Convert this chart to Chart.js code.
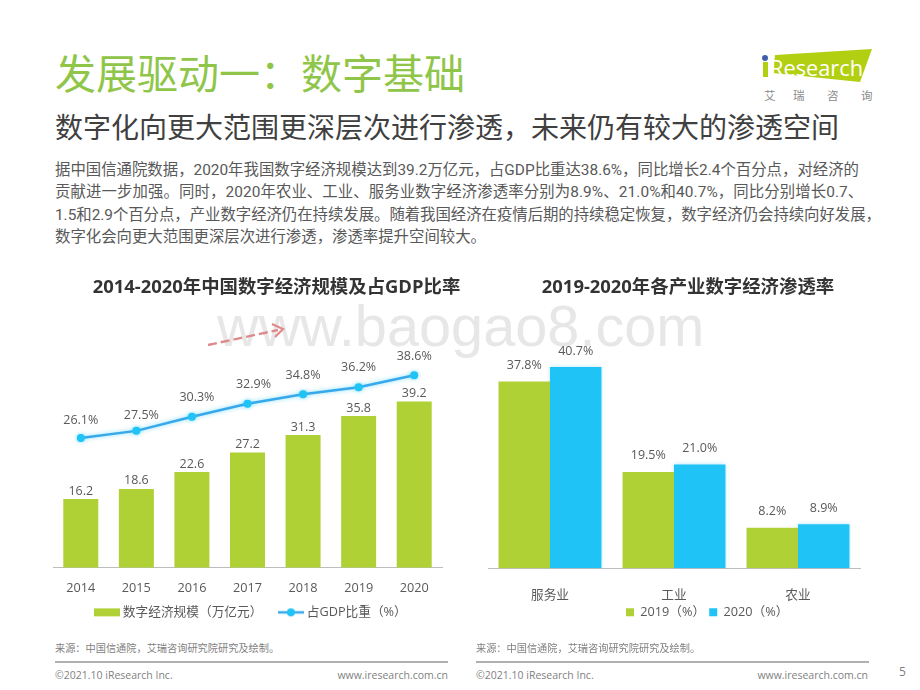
<!DOCTYPE html>
<html lang="zh-CN"><head><meta charset="utf-8">
<script src="https://cdn.jsdelivr.net/npm/chart.js@4"></script>
<style>
html,body{margin:0;padding:0;background:#fff;width:920px;height:690px;overflow:hidden}
body{position:relative;font-family:"Open Sans","Noto Sans CJK SC",sans-serif}
.t{position:absolute;white-space:nowrap;line-height:1}
.b{font-family:Roboto,"Noto Sans CJK SC",sans-serif;font-size:15.4px;color:#595959;left:55px}
.f{font-size:10.5px;color:#7f7f7f}
canvas{position:absolute}
svg{position:absolute;left:0;top:0}
.rule{position:absolute;height:2px;background:#b0b0b0;top:661px}
.mark{position:absolute;left:217px;top:293px;font:57.7px "Liberation Sans";color:#e7e7e7;white-space:nowrap}
</style></head><body>
<div class="mark">www.baogao8.com</div>
<div class="t" style="left:55px;top:53px;font-size:41px;color:#8fc649">发展驱动一：数字基础</div>
<div class="t" style="left:55px;top:113px;font-size:28px;color:#404040">数字化向更大范围更深层次进行渗透，未来仍有较大的渗透空间</div>
<div class="t b" style="top:163px">据中国信通院数据，2020年我国数字经济规模达到39.2万亿元，占GDP比重达38.6%，同比增长2.4个百分点，对经济的</div>
<div class="t b" style="top:185px;letter-spacing:.1px">贡献进一步加强。同时，2020年农业、工业、服务业数字经济渗透率分别为8.9%、21.0%和40.7%，同比分别增长0.7、</div>
<div class="t b" style="top:208px;letter-spacing:-.03px">1.5和2.9个百分点，产业数字经济仍在持续发展。随着我国经济在疫情后期的持续稳定恢复，数字经济仍会持续向好发展，</div>
<div class="t b" style="top:230px">数字化会向更大范围更深层次进行渗透，渗透率提升空间较大。</div>

<svg width="920" height="690">
  <polygon points="775,55 872,49 860,82 773,73" fill="#b2cf12"/>
  <rect x="763" y="62" width="5" height="15" fill="#b2cf12"/>
  <circle cx="765" cy="58" r="3" fill="#3f5fae"/>
  <text x="770" y="76" font-family="Open Sans" font-size="22" fill="#fff" textLength="93" lengthAdjust="spacingAndGlyphs">Research</text>
  <text x="764" y="100" font-family="Noto Sans CJK SC" font-size="11.5" fill="#8a8a8a">艾</text>
  <text x="793" y="100" font-family="Noto Sans CJK SC" font-size="11.5" fill="#8a8a8a">瑞</text>
  <text x="827" y="100" font-family="Noto Sans CJK SC" font-size="11.5" fill="#8a8a8a">咨</text>
  <text x="861" y="100" font-family="Noto Sans CJK SC" font-size="11.5" fill="#8a8a8a">询</text>
  <line x1="208" y1="345" x2="278" y2="330" stroke="#df8a8a" stroke-width="2.4" stroke-dasharray="9 4"/>
  <polyline points="272,324 283,329 275,337" fill="none" stroke="#df8a8a" stroke-width="2.2"/>
</svg>

<canvas id="left" width="447" height="370" style="left:53px;top:270px"></canvas>
<canvas id="right" width="416" height="361" style="left:480px;top:270px"></canvas>

<div class="t f" style="left:55px;top:643px;font-size:10.2px">来源：中国信通院，艾瑞咨询研究院研究及绘制。</div>
<div class="t f" style="left:476px;top:643px;font-size:10.2px">来源：中国信通院，艾瑞咨询研究院研究及绘制。</div>
<div class="rule" style="left:55px;width:393px"></div>
<div class="rule" style="left:476px;width:393px"></div>
<div class="t f" style="left:55px;top:670px">©2021.10 iResearch Inc.</div>
<div class="t f" style="left:476px;top:670px">©2021.10 iResearch Inc.</div>
<div class="t f" style="right:472px;top:670px">www.iresearch.com.cn</div>
<div class="t f" style="right:52px;top:670px">www.iresearch.com.cn</div>
<div class="t" style="left:899px;top:666px;font-size:12px;color:#7f7f7f">5</div>

<script>
const years = ["2014","2015","2016","2017","2018","2019","2020"];
const scaleValues = [16.2,18.6,22.6,27.2,31.3,35.8,39.2];
const gdpShare = [26.1,27.5,30.3,32.9,34.8,36.2,38.6];
const industries = ["服务业","工业","农业"];
const rate2019 = [37.8,19.5,8.2];
const rate2020 = [40.7,21.0,8.9];

const FONT = '"Open Sans","Noto Sans CJK SC",sans-serif';
const GREEN = '#afd136', BLUE = '#1fc3f5', LINE = '#37a9ea', TXT = '#595959', AXIS = '#bdbdbd';
Chart.defaults.font.family = FONT;
Chart.defaults.animation = false;

function swatch(draw){
  const c = document.createElement('canvas'); c.width = 26; c.height = 12;
  draw(c.getContext('2d')); return c;
}
const barSwatch = swatch(x=>{x.fillStyle=GREEN;x.fillRect(0,2,26,8);});
const lineSwatch = swatch(x=>{x.strokeStyle=LINE;x.lineWidth=2.5;x.beginPath();x.moveTo(0,6);x.lineTo(26,6);x.stroke();
  x.fillStyle=BLUE;x.beginPath();x.arc(13,6,4,0,Math.PI*2);x.fill();});

// small nudges of the value labels as placed in the reference
const lineLabelNudge = [[0,-17],[5,-15],[5,-19],[6,-19],[0,-19],[0,-20],[0,-19]];

const valueLabels = {
  id:'valueLabels',
  afterDatasetsDraw(chart){
    const c = chart.ctx; c.save();
    c.font = '12.5px '+FONT; c.fillStyle = TXT; c.textAlign='center'; c.textBaseline='middle';
    chart.data.datasets.forEach((ds,i)=>{
      const meta = chart.getDatasetMeta(i);
      meta.data.forEach((el,j)=>{
        const n = ds.nudge ? ds.nudge[j] : [0, ds.gap];
        const text = ds.data[j].toFixed(1) + (ds.unit||'');
        c.fillText(text, el.x+n[0], el.y+n[1]);
      });
    });
    c.restore();
  }
};
const glow = {
  id:'glow',
  beforeDatasetDraw(chart,args){
    const ds = chart.data.datasets[args.index];
    if(ds.glow){chart.ctx.save();chart.ctx.shadowColor=ds.glow;chart.ctx.shadowBlur=4;}
  },
  afterDatasetDraw(chart,args){
    if(chart.data.datasets[args.index].glow) chart.ctx.restore();
  }
};
const placeBlocks = {
  id:'placeBlocks',
  afterLayout(chart,_a,o){
    const l = chart.legend, w = l.right-l.left, h = l.bottom-l.top;
    l.left = o.left; l.right = o.left+w; l.top = o.top; l.bottom = o.top+h;
    const t = chart.titleBlock;
    t.left += o.titleShift; t.right += o.titleShift;
  }
};
function title(text){
  return {display:true,text,color:'#333333',font:{size:18.4,weight:'bold',family:FONT},padding:{top:7,bottom:39}};
}
function xAxis(h,pad){
  return {grid:{display:false},border:{display:true,color:AXIS,width:1},
    ticks:{color:TXT,font:{size:12.7},padding:pad,maxRotation:0},
    afterFit(s){s.height=h;}};
}

new Chart(document.getElementById('left'),{
  data:{labels:years,datasets:[
    {type:'bar',label:'数字经济规模（万亿元）',data:scaleValues,backgroundColor:GREEN,yAxisID:'y',
     barPercentage:0.63,categoryPercentage:1,order:2,gap:-8},
    {type:'line',label:'占GDP比重（%）',data:gdpShare,borderColor:LINE,backgroundColor:BLUE,borderWidth:2.5,
     pointRadius:4,pointBackgroundColor:BLUE,pointBorderColor:BLUE,pointBorderWidth:0,tension:0,yAxisID:'y2',order:1,
     unit:'%',nudge:lineLabelNudge,glow:'rgba(31,195,245,.55)'}
  ]},
  options:{responsive:false,
    layout:{autoPadding:false,padding:{left:0,right:58,bottom:0.5}},
    scales:{
      x:xAxis(30,4.5),
      y:{display:false,min:0,max:54.17},
      y2:{display:false,min:0.2,max:46}
    },
    plugins:{
      title:title('2014-2020年中国数字经济规模及占GDP比率'),
      tooltip:{enabled:false},
      placeBlocks:{left:25.5,top:317,titleShift:29},
      legend:{position:'bottom',align:'start',labels:{usePointStyle:true,pointStyleWidth:19,color:TXT,font:{size:12.7},padding:19,
        generateLabels(ch){
          return ch.data.datasets.map((d,i)=>({text:d.label,fontColor:TXT,datasetIndex:i,hidden:false,lineWidth:0,
            pointStyle:i===0?barSwatch:lineSwatch}));
        }}}
    }
  },
  plugins:[valueLabels,glow,placeBlocks]
});

new Chart(document.getElementById('right'),{
  type:'bar',
  data:{labels:industries,datasets:[
    {label:'2019（%）',data:rate2019,backgroundColor:GREEN,barPercentage:1,categoryPercentage:0.83,unit:'%',gap:-16},
    {label:'2020（%）',data:rate2020,backgroundColor:BLUE,barPercentage:1,categoryPercentage:0.83,unit:'%',gap:-16,glow:'rgba(31,195,245,.35)'}
  ]},
  options:{responsive:false,
    layout:{autoPadding:false,padding:{left:8,right:36,bottom:0}},
    scales:{
      x:xAxis(36,11),
      y:{display:false,min:0,max:46.56}
    },
    plugins:{
      title:title('2019-2020年各产业数字经济渗透率'),
      tooltip:{enabled:false},
      placeBlocks:{left:142,top:331.8,titleShift:14},
      legend:{position:'bottom',align:'start',labels:{boxWidth:8,boxHeight:8,color:TXT,font:{size:12.7},padding:4}}
    }
  },
  plugins:[valueLabels,glow,placeBlocks]
});
</script>
</body></html>
